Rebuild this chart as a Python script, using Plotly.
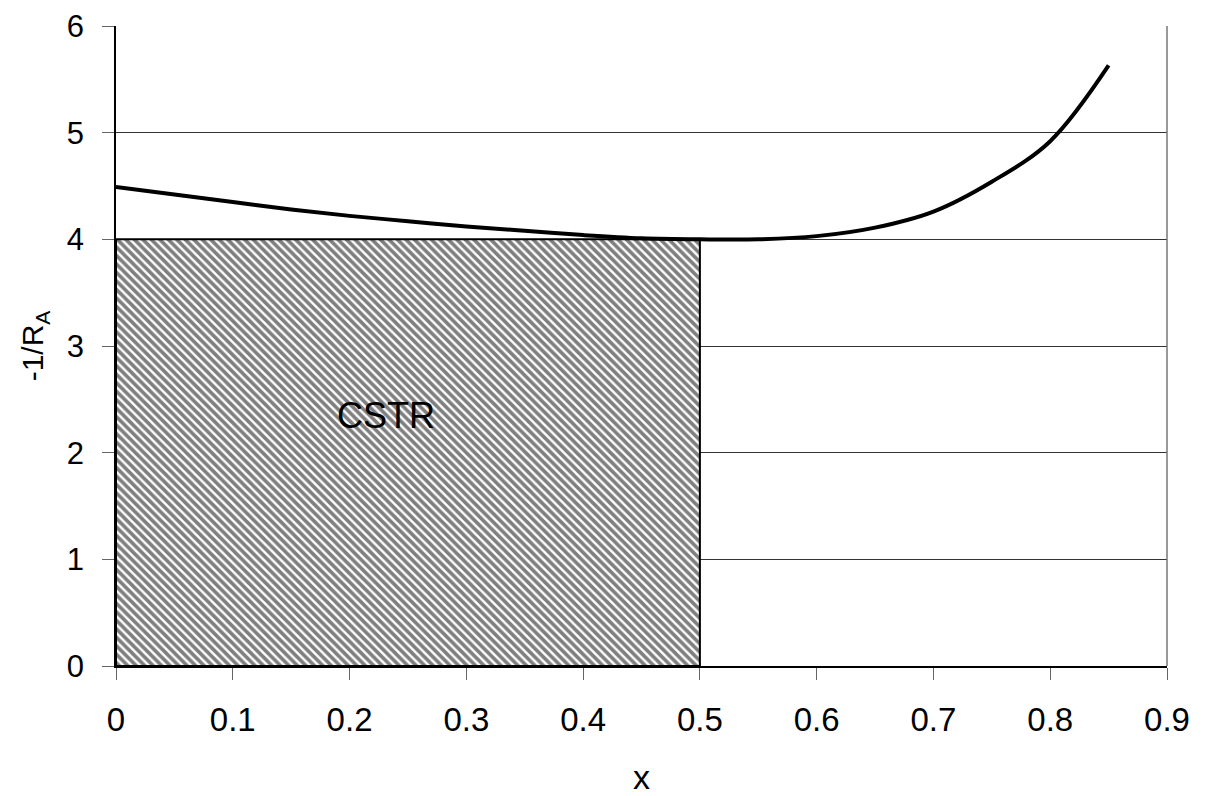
import plotly.graph_objects as go

# Data
conv_x = [0.0, 0.05, 0.1, 0.15, 0.2, 0.25, 0.3, 0.35, 0.4, 0.45, 0.5, 0.55, 0.6, 0.65, 0.7, 0.75, 0.8, 0.85]
inv_rate = [4.49, 4.42, 4.35, 4.28, 4.22, 4.17, 4.12, 4.08, 4.04, 4.01, 4.0, 4.0, 4.03, 4.11, 4.26, 4.54, 4.92, 5.63]

cstr_x = [0.0, 0.0, 0.5, 0.5, 0.0]
cstr_y = [0.0, 4.0, 4.0, 0.0, 0.0]
cstr_label = "CSTR"
cstr_label_pos = (0.231, 2.35)

x_ticks = [0, 0.1, 0.2, 0.3, 0.4, 0.5, 0.6, 0.7, 0.8, 0.9]
x_ticktext = ["0", "0.1", "0.2", "0.3", "0.4", "0.5", "0.6", "0.7", "0.8", "0.9"]
y_ticks = [0, 1, 2, 3, 4, 5, 6]

FONT = "Liberation Sans, Arial"

fig = go.Figure()

fig.add_trace(go.Scatter(
    x=cstr_x, y=cstr_y, mode="lines", fill="toself",
    fillcolor="white",
    fillpattern=dict(shape="\\", fgcolor="black", bgcolor="white", size=6, solidity=0.6),
    line=dict(color="black", width=2), showlegend=False, hoverinfo="skip"))

fig.add_trace(go.Scatter(
    x=conv_x, y=inv_rate, mode="lines", line=dict(color="black", width=4, shape="spline"),
    showlegend=False))

fig.add_annotation(x=cstr_label_pos[0], y=cstr_label_pos[1], text=cstr_label, showarrow=False,
                   font=dict(family=FONT, size=36, color="black"))

fig.add_shape(type="line", xref="paper", yref="paper", x0=1, x1=1, y0=0, y1=1,
              line=dict(color="#777777", width=1.5))

fig.update_layout(
    width=1203, height=788,
    margin=dict(l=108, r=44, t=18, b=130),
    paper_bgcolor="white", plot_bgcolor="white",
    font=dict(family=FONT, size=32, color="black"),
    xaxis=dict(range=[0, 0.9], tickvals=x_ticks, ticktext=x_ticktext,
               tickfont=dict(size=33), automargin=False, ticklabelstandoff=12,
               showgrid=False, zeroline=False, showline=True, linecolor="black", linewidth=1.5,
               ticks="outside", ticklen=12, tickcolor="#666",
               title=dict(text="x", font=dict(size=34), standoff=32)),
    yaxis=dict(range=[0, 6], tickvals=y_ticks,
               tickfont=dict(size=31), automargin=False, ticklabelstandoff=12,
               showgrid=True, gridcolor="#333", gridwidth=1, zeroline=False,
               showline=True, linecolor="black", linewidth=1.5,
               ticks="outside", ticklen=12, tickcolor="#666",
               title=dict(text="-1/R<sub>A</sub>", font=dict(size=30), standoff=14)),
)

fig.write_html("out.html")
